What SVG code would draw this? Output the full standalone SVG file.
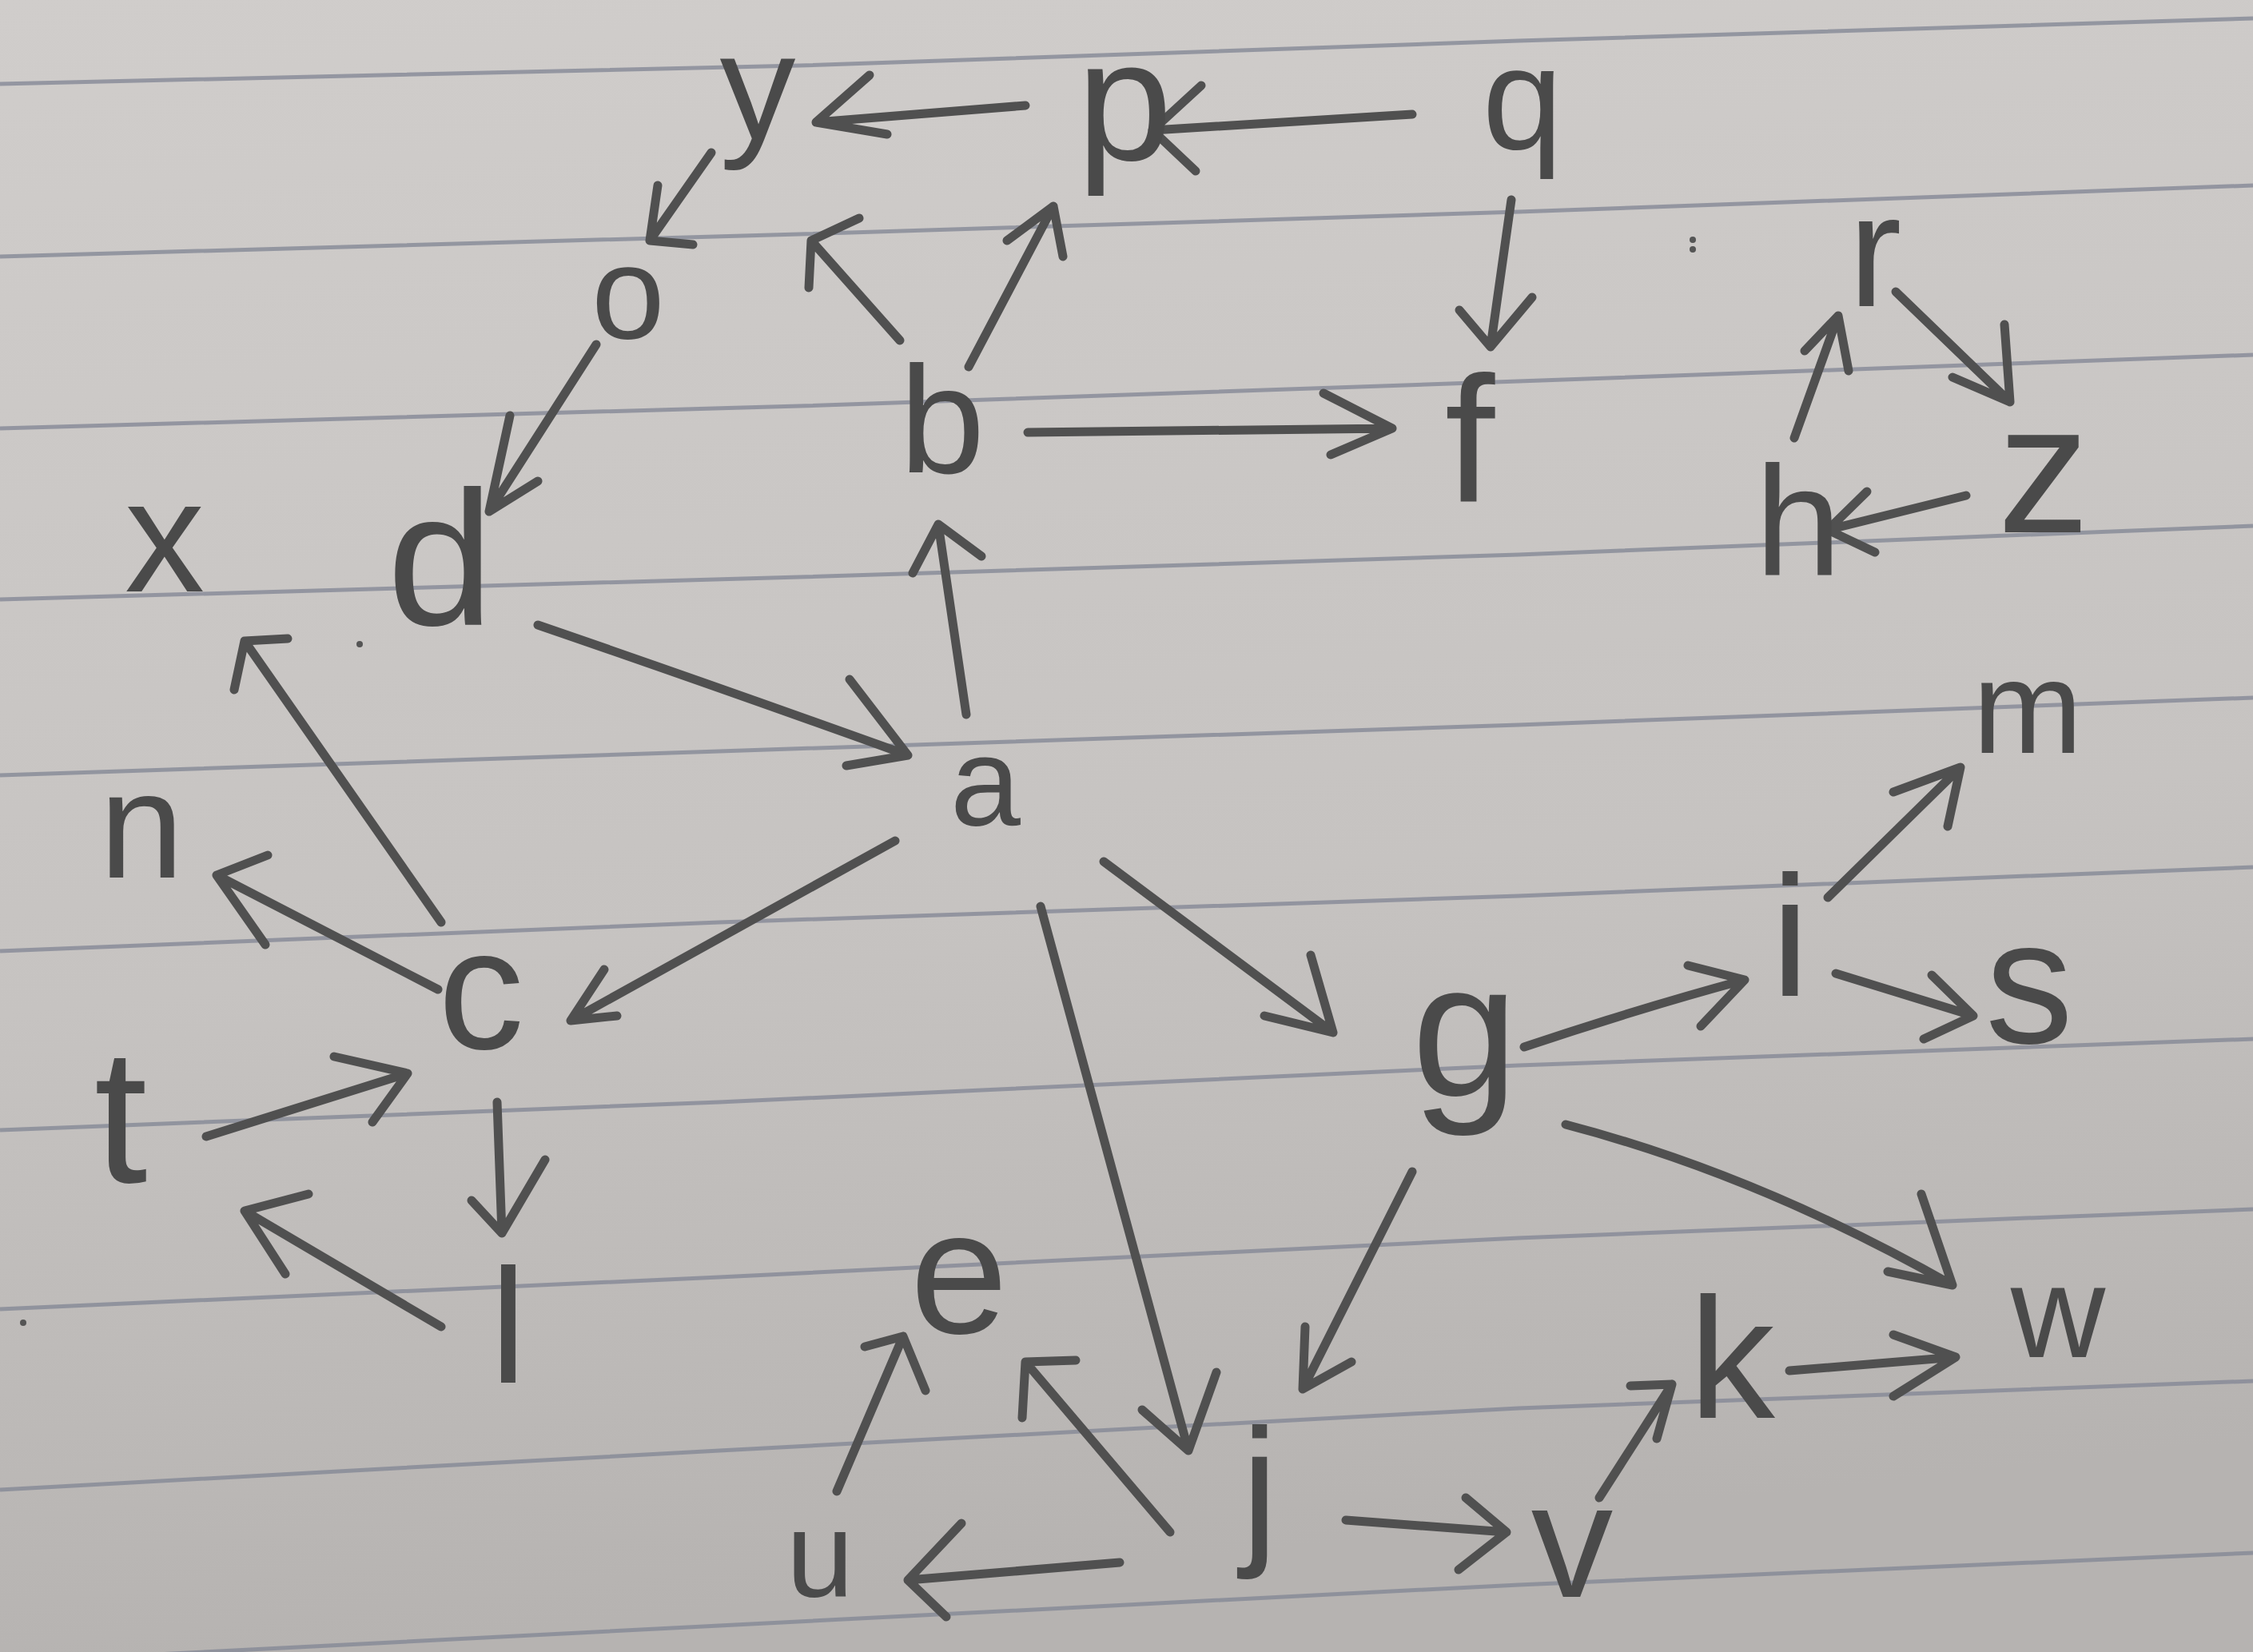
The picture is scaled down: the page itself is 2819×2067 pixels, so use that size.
<svg xmlns="http://www.w3.org/2000/svg" width="2819" height="2067" viewBox="0 0 2819 2067">
<style>
.lbl{font-family:"Liberation Sans","DejaVu Sans",sans-serif;fill:#4a4a4a;text-anchor:middle}
.edge{fill:none;stroke:#505050;stroke-width:11;stroke-linecap:round;stroke-linejoin:round}
.rule{fill:none;stroke:#858896;stroke-width:5;stroke-opacity:0.8}
.mark{fill:#555}
</style>
<defs>
<linearGradient id="paper" x1="0" y1="0" x2="0.15" y2="1">
<stop offset="0" stop-color="#d0cdcb"/>
<stop offset="0.6" stop-color="#c6c3c1"/>
<stop offset="1" stop-color="#b6b3b1"/>
</linearGradient>
</defs>
<rect width="2819" height="2067" fill="url(#paper)"/>
<g id="ruled-lines">
<polyline class="rule" points="0,105 1000,82 1900,51 2819,23"/>
<polyline class="rule" points="0,321 1000,293 1900,265 2819,232"/>
<polyline class="rule" points="0,536 1000,508 1900,477 2819,444"/>
<polyline class="rule" points="0,750 1000,722 1900,694 2819,658"/>
<polyline class="rule" points="0,970 900,940 1900,907 2819,873"/>
<polyline class="rule" points="0,1190 900,1154 1900,1121 2819,1085"/>
<polyline class="rule" points="0,1414 900,1379 1900,1333 2819,1300"/>
<polyline class="rule" points="0,1638 900,1598 1900,1549 2819,1513"/>
<polyline class="rule" points="0,1864 900,1815 1900,1762 2819,1728"/>
<polyline class="rule" points="0,2080 900,2034 1900,1983 2819,1943"/>
</g>
<g id="marks">
<circle class="mark" cx="2118" cy="300" r="4"/>
<circle class="mark" cx="2118" cy="312" r="4"/>
<circle class="mark" cx="450" cy="806" r="4"/>
<circle class="mark" cx="29" cy="1655" r="4"/>
</g>
<g id="connectors">
<path id="e-p-y" class="edge" d="M1283,132 L1021,153 M1088,94 L1021,153 L1110,168"/>
<path id="e-q-p" class="edge" d="M1767,143 L1442,163 M1503,107 L1442,163 L1496,214"/>
<path id="e-b-y" class="edge" d="M1126,426 L1015,301 M1075,273 L1015,301 L1012,360"/>
<path id="e-b-p" class="edge" d="M1212,459 L1318,258 M1260,301 L1318,258 L1330,321"/>
<path id="e-b-f" class="edge" d="M1286,541 L1742,536 M1656,492 L1742,536 L1665,569"/>
<path id="e-a-b" class="edge" d="M1209,894 L1174,656 M1142,717 L1174,656 L1228,696"/>
<path id="e-q-f" class="edge" d="M1891,250 L1865,434 M1826,388 L1865,434 L1917,372"/>
<path id="e-r-z" class="edge" d="M2372,365 L2515,503 M2508,406 L2515,503 L2443,472"/>
<path id="e-z-h" class="edge" d="M2460,620 L2287,663 M2336,615 L2287,663 L2346,691"/>
<path id="e-h-r" class="edge" d="M2245,548 L2300,395 M2258,439 L2300,395 L2313,464"/>
<path id="e-y-o" class="edge" d="M890,191 L813,301 M823,232 L813,301 L867,306"/>
<path id="e-o-d" class="edge" d="M746,431 L612,640 M638,520 L612,640 L673,602"/>
<path id="e-d-a" class="edge" d="M673,782 Q900,860 1136,945 M1063,850 L1136,945 L1059,958"/>
<path id="e-c-x" class="edge" d="M552,1154 L306,802 M360,799 L306,802 L293,863"/>
<path id="e-c-n" class="edge" d="M548,1238 L271,1095 M335,1070 L271,1095 L332,1182"/>
<path id="e-a-c" class="edge" d="M1120,1052 L714,1277 M756,1213 L714,1277 L772,1271"/>
<path id="e-t-c" class="edge" d="M258,1422 L510,1343 M418,1322 L510,1343 L466,1404"/>
<path id="e-c-l" class="edge" d="M622,1379 L628,1543 M590,1502 L628,1543 L682,1451"/>
<path id="e-l-t" class="edge" d="M552,1660 L306,1515 M386,1494 L306,1515 L357,1594"/>
<path id="e-a-g" class="edge" d="M1381,1078 L1668,1292 M1640,1195 L1668,1292 L1582,1271"/>
<path id="e-a-j" class="edge" d="M1302,1134 L1487,1815 M1429,1764 L1487,1815 L1522,1717"/>
<path id="e-g-i" class="edge" d="M1907,1310 Q2050,1262 2183,1226 M2112,1208 L2183,1226 L2128,1284"/>
<path id="e-i-m" class="edge" d="M2287,1123 L2453,960 M2369,991 L2453,960 L2437,1034"/>
<path id="e-i-s" class="edge" d="M2297,1218 L2469,1271 M2417,1220 L2469,1271 L2407,1300"/>
<path id="e-g-w" class="edge" d="M1959,1407 Q2200,1470 2443,1608 M2404,1494 L2443,1608 L2362,1591"/>
<path id="e-k-w" class="edge" d="M2239,1715 L2447,1698 M2369,1670 L2447,1698 L2369,1747"/>
<path id="e-v-k" class="edge" d="M2001,1874 L2092,1732 M2040,1734 L2092,1732 L2073,1800"/>
<path id="e-j-v" class="edge" d="M1684,1902 L1885,1917 M1834,1874 L1885,1917 L1825,1964"/>
<path id="e-g-j" class="edge" d="M1767,1466 L1630,1738 M1633,1660 L1630,1738 L1691,1704"/>
<path id="e-j-e" class="edge" d="M1464,1917 L1283,1704 M1346,1702 L1283,1704 L1279,1774"/>
<path id="e-u-e" class="edge" d="M1047,1866 L1130,1672 M1082,1685 L1130,1672 L1158,1740"/>
<path id="e-j-u" class="edge" d="M1401,1955 L1136,1977 M1203,1906 L1136,1977 L1184,2023"/>
</g>
<g id="node-y"><text class="lbl" x="948" y="174" font-size="190">y</text></g>
<g id="node-p"><text class="lbl" x="1407" y="200" font-size="215">p</text></g>
<g id="node-q"><text class="lbl" x="1905" y="186" font-size="181">q</text></g>
<g id="node-o"><text class="lbl" x="786" y="423" font-size="165">o</text></g>
<g id="node-b"><text class="lbl" x="1179" y="592" font-size="192">b</text></g>
<g id="node-f"><text class="lbl" x="1839" y="628" font-size="225">f</text></g>
<g id="node-r"><text class="lbl" x="2346" y="383" font-size="200">r</text></g>
<g id="node-z"><text class="lbl" x="2557" y="666" font-size="230">z</text></g>
<g id="node-h"><text class="lbl" x="2250" y="719" font-size="195">h</text></g>
<g id="node-x"><text class="lbl" x="206" y="740" font-size="200">x</text></g>
<g id="node-d"><text class="lbl" x="551" y="782" font-size="240">d</text></g>
<g id="node-a"><text class="lbl" x="1233" y="1032" font-size="158">a</text></g>
<g id="node-m"><text class="lbl" x="2537" y="942" font-size="165">m</text></g>
<g id="node-n"><text class="lbl" x="177" y="1098" font-size="190">n</text></g>
<g id="node-c"><text class="lbl" x="602" y="1312" font-size="215">c</text></g>
<g id="node-i"><text class="lbl" x="2240" y="1246" font-size="215">i</text></g>
<g id="node-s"><text class="lbl" x="2539" y="1305" font-size="220">s</text></g>
<g id="node-g"><text class="lbl" x="1833" y="1371" font-size="240">g</text></g>
<g id="node-t"><text class="lbl" x="151" y="1479" font-size="240">t</text></g>
<g id="node-l"><text class="lbl" x="636" y="1730" font-size="204">l</text></g>
<g id="node-e"><text class="lbl" x="1200" y="1668" font-size="220">e</text></g>
<g id="node-w"><text class="lbl" x="2575" y="1698" font-size="164">w</text></g>
<g id="node-k"><text class="lbl" x="2167" y="1774" font-size="215">k</text></g>
<g id="node-j"><text class="lbl" x="1576" y="1933" font-size="208">j</text></g>
<g id="node-u"><text class="lbl" x="1026" y="1998" font-size="152">u</text></g>
<g id="node-v"><text class="lbl" x="1967" y="1998" font-size="205">v</text></g>
</svg>
